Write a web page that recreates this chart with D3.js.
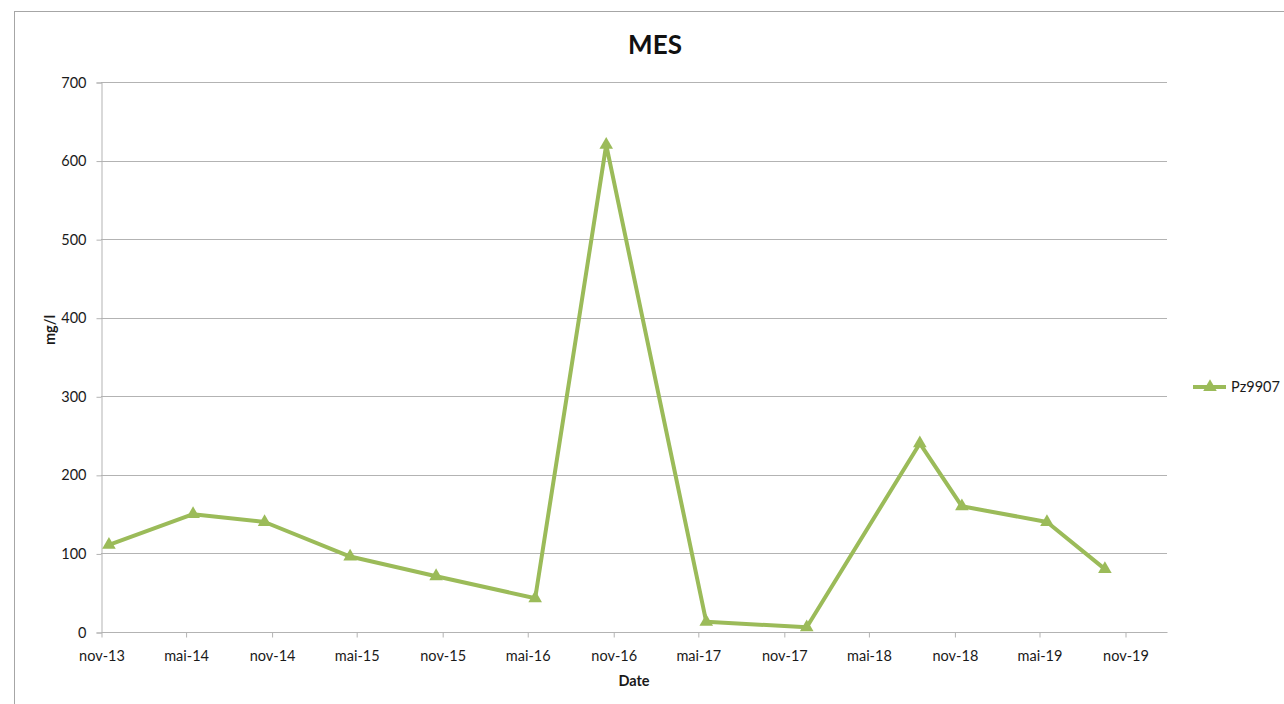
<!DOCTYPE html>
<html>
<head>
<meta charset="utf-8">
<script src="https://cdn.jsdelivr.net/npm/d3@7"></script>
<style>
  body { margin: 0; background: #fff; }
  svg { display: block; font-family: Lato, "Open Sans", sans-serif; }
</style>
</head>
<body>
<svg id="chart" width="1284" height="704"></svg>
<script>
// sample dates and MES values (mg/l) for Pz9907
const dates = ["2013-11-18", "2014-05-17", "2014-10-17", "2015-04-18", "2015-10-19", "2016-05-18",
    "2016-10-17", "2017-05-19", "2017-12-20", "2018-08-19", "2018-11-17", "2019-05-18", "2019-09-19"];
const values = [111, 150, 140, 96, 71, 43, 620, 13, 6, 240, 160, 140, 80];
const tickDates = ["2013-11-01", "2014-05-01", "2014-11-01", "2015-05-01", "2015-11-01", "2016-05-01",
    "2016-11-01", "2017-05-01", "2017-11-01", "2018-05-01", "2018-11-01", "2019-05-01", "2019-11-01"];
const yTicks = [0, 100, 200, 300, 400, 500, 600, 700];
const seriesName = "Pz9907";

const monthsFr = ["janv", "févr", "mars", "avr", "mai", "juin", "juil", "août", "sept", "oct", "nov", "déc"];
const fmt = d => monthsFr[d.getMonth()] + "-" + String(d.getFullYear()).slice(2);

const green = "#9BBB59";
const textColor = "#1a1a1a";
const fontSize = 14.5;
const plot = {left: 101, right: 1167, top: 82, bottom: 632};

const parse = d3.timeParse("%Y-%m-%d");
const data = dates.map((d, i) => ({date: parse(d), value: values[i]}));

const svg = d3.select("#chart");

// outer chart frame
svg.append("rect")
    .attr("x", 14.5).attr("y", 11.5)
    .attr("width", 1300).attr("height", 720)
    .attr("fill", "none").attr("stroke", "#a6a6a6");

const x = d3.scaleTime()
    .domain([parse(tickDates[0]), parse(tickDates[tickDates.length - 1])])
    .range([plot.left, 1125]);
const y = d3.scaleLinear().domain([0, 700]).range([plot.bottom, plot.top]);

// horizontal gridlines
svg.append("g")
    .selectAll("line")
    .data(yTicks.filter(v => v > 0))
    .enter().append("line")
    .attr("x1", plot.left).attr("x2", plot.right)
    .attr("y1", d => Math.round(y(d)) + 0.5).attr("y2", d => Math.round(y(d)) + 0.5)
    .attr("stroke", "#b3b3b3");

// y axis
const yAxis = svg.append("g")
    .attr("transform", `translate(${plot.left + 0.5},0.5)`)
    .call(d3.axisLeft(y).tickValues(yTicks).tickSize(5).tickPadding(10));
yAxis.select(".domain").attr("stroke", "#b3b3b3");
yAxis.selectAll(".tick line").attr("stroke", "#b3b3b3");
yAxis.selectAll("text").attr("font-size", fontSize).attr("fill", textColor).style("font-family", "Lato, sans-serif");

// x axis
const xAxis = svg.append("g")
    .attr("transform", `translate(0.5,${plot.bottom + 0.5})`)
    .call(d3.axisBottom(x).tickValues(tickDates.map(parse)).tickFormat(fmt).tickSize(5).tickPadding(13));
xAxis.select(".domain").attr("d", `M${plot.left},0H${plot.right}`).attr("stroke", "#b3b3b3");
xAxis.selectAll(".tick line").attr("stroke", "#b3b3b3");
xAxis.selectAll("text").attr("font-size", fontSize).attr("fill", textColor).style("font-family", "Lato, sans-serif");

// title and axis titles
svg.append("text")
    .attr("x", 655).attr("y", 54)
    .attr("text-anchor", "middle")
    .attr("font-size", 26).attr("font-weight", "bold").attr("fill", "#111")
    .text("MES");
svg.append("text")
    .attr("x", 634).attr("y", 686)
    .attr("text-anchor", "middle")
    .attr("font-size", fontSize).attr("font-weight", "bold").attr("fill", textColor)
    .text("Date");
svg.append("text")
    .attr("transform", "translate(55,330) rotate(-90)")
    .attr("text-anchor", "middle")
    .attr("font-size", fontSize).attr("font-weight", "bold").attr("fill", textColor)
    .text("mg/l");

// series line
const line = d3.line().x(d => x(d.date)).y(d => y(d.value));
svg.append("path")
    .datum(data)
    .attr("d", line)
    .attr("fill", "none")
    .attr("stroke", green)
    .attr("stroke-width", 4)
    .attr("stroke-linejoin", "round");

// triangle markers
const tri = d3.symbol().type(d3.symbolTriangle).size(80);
svg.append("g")
    .selectAll("path")
    .data(data)
    .enter().append("path")
    .attr("d", tri)
    .attr("transform", d => `translate(${x(d.date)},${y(d.value)})`)
    .attr("fill", green);

// legend
const legend = svg.append("g").attr("transform", "translate(1193,387)");
legend.append("line")
    .attr("x1", 0).attr("x2", 33)
    .attr("stroke", green).attr("stroke-width", 4);
legend.append("path")
    .attr("d", tri)
    .attr("transform", "translate(17,0)")
    .attr("fill", green);
legend.append("text")
    .attr("x", 38).attr("y", 5)
    .attr("font-size", fontSize).attr("fill", textColor)
    .text(seriesName);
</script>
</body>
</html>
